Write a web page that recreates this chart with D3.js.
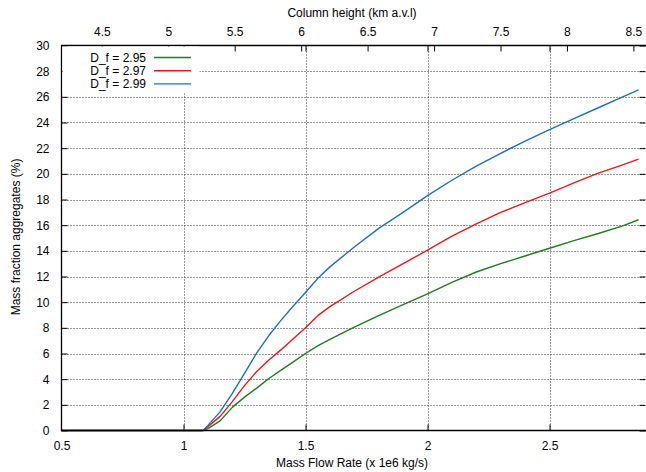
<!DOCTYPE html>
<html>
<head>
<meta charset="utf-8">
<script src="https://cdn.jsdelivr.net/npm/d3@7"></script>
<style>
  html, body { margin: 0; padding: 0; background: #fff; }
  svg { display: block; }
  text { font-family: "Liberation Sans", Arial, sans-serif; font-size: 12px; fill: #000; }
</style>
</head>
<body>
<svg id="chart" width="646" height="472"></svg>
<script>
// ---- data ----
const massFlow = [0.5, 0.6, 0.7, 0.8, 0.9, 1.0, 1.05, 1.08, 1.1, 1.15, 1.2, 1.25, 1.3, 1.35, 1.4, 1.45, 1.5, 1.55, 1.6, 1.7, 1.8, 1.9, 2.0, 2.1, 2.2, 2.3, 2.4, 2.5, 2.6, 2.7, 2.8, 2.865];
const df295 = [0, 0, 0, 0, 0, 0, 0, 0, 0.15, 0.75, 1.8, 2.6, 3.3, 4.05, 4.7, 5.35, 6.0, 6.6, 7.1, 8.05, 8.95, 9.8, 10.65, 11.55, 12.35, 13.0, 13.6, 14.2, 14.8, 15.35, 15.95, 16.42];
const df297 = [0, 0, 0, 0, 0, 0, 0, 0, 0.3, 1.1, 2.25, 3.5, 4.6, 5.5, 6.3, 7.15, 8.0, 8.95, 9.65, 10.85, 11.95, 13.0, 14.05, 15.15, 16.1, 17.0, 17.75, 18.5, 19.3, 20.05, 20.7, 21.15];
const df299 = [0, 0, 0, 0, 0, 0, 0, 0, 0.4, 1.45, 2.9, 4.45, 6.05, 7.4, 8.6, 9.7, 10.75, 11.85, 12.75, 14.3, 15.75, 17.0, 18.3, 19.5, 20.6, 21.6, 22.55, 23.45, 24.3, 25.15, 26.0, 26.55];
const seriesNames = ["D_f = 2.95", "D_f = 2.97", "D_f = 2.99"];
const seriesColors = ["#1e7d1e", "#e41a1c", "#1f70b8"];
const xTicks = [0.5, 1, 1.5, 2, 2.5];
const x2Ticks = [4.5, 5, 5.5, 6, 6.5, 7, 7.5, 8, 8.5];
const yTicks = [0, 2, 4, 6, 8, 10, 12, 14, 16, 18, 20, 22, 24, 26, 28, 30];
const xTitle = "Mass Flow Rate (x 1e6 kg/s)";
const x2Title = "Column height (km a.v.l)";
const yTitle = "Mass fraction aggregates (%)";

// ---- layout ----
const L = 61.5, R = 646, T = 45.5, B = 430.5;
const svg = d3.select("#chart");

const x = d3.scaleLinear().domain([0.5, 0.5 + (R - L) / 244]).range([L, R]);
const x2 = d3.scaleLinear().domain([4.5 - (101.8 - L) / 132.9, 4.5 + (R - 101.8) / 132.9]).range([L, R]);
const y = d3.scaleLinear().domain([0, 30]).range([B, T]);

// grid
const grid = svg.append("g").attr("stroke", "#333").attr("stroke-width", 1).attr("stroke-dasharray", "1,2");
grid.selectAll("line.h").data(yTicks.filter(d => d > 0 && d < 30)).enter().append("line")
  .attr("x1", L).attr("x2", R).attr("y1", d => Math.round(y(d)) + 0.5).attr("y2", d => Math.round(y(d)) + 0.5);
grid.selectAll("line.v").data(xTicks.filter(d => d > 0.5)).enter().append("line")
  .attr("x1", d => Math.round(x(d)) + 0.5).attr("x2", d => Math.round(x(d)) + 0.5).attr("y1", T).attr("y2", B);

// axes (ticks inward)
const tk = 6;
const gx = svg.append("g").attr("transform", `translate(0,${B})`)
  .call(d3.axisBottom(x).tickValues(xTicks).tickSize(-tk).tickPadding(tk + 5).tickFormat(d3.format("")));
const gxm = svg.append("g").attr("transform", `translate(0,${T})`)
  .call(d3.axisTop(x).tickValues(xTicks).tickSize(-tk).tickFormat(""));
const gx2 = svg.append("g").attr("transform", `translate(0,${T})`)
  .call(d3.axisTop(x2).tickValues(x2Ticks).tickSize(-tk).tickPadding(tk + 4).tickFormat(d3.format("")));
const gy = svg.append("g").attr("transform", `translate(${L},0)`)
  .call(d3.axisLeft(y).tickValues(yTicks).tickSize(-tk).tickPadding(tk + 6).tickFormat(d3.format("")));
const gyr = svg.append("g").attr("transform", `translate(${R - 0.5},0)`)
  .call(d3.axisRight(y).tickValues(yTicks).tickSize(-tk).tickFormat(""));
[gx, gxm, gx2, gy, gyr].forEach(g => {
  g.select(".domain").remove();
  g.selectAll("line").attr("stroke", "#000");
  g.selectAll("text").style("font-family", "'Liberation Sans', Arial, sans-serif").style("font-size", "12px").attr("fill", "#000");
});
gxm.selectAll(".tick").filter(d => d === 0.5).remove();
gx.selectAll(".tick line").filter(d => d === 0.5).remove();

// lines
const lineGen = d3.line().x(d => x(d[0])).y(d => y(d[1]));
[df295, df297, df299].forEach((vals, i) => {
  svg.append("path")
    .datum(massFlow.map((m, j) => [m, vals[j]]))
    .attr("fill", "none").attr("stroke", seriesColors[i]).attr("stroke-width", 1.4)
    .attr("stroke-linejoin", "round")
    .attr("d", lineGen);
});

// border
svg.append("path").attr("fill", "none").attr("stroke", "#000").attr("stroke-width", 1.3)
  .attr("d", `M${R},${T}H${L}V${B}H${R}`);

// legend
const lg = svg.append("g");
lg.append("rect").attr("x", L + 1).attr("y", T + 1).attr("width", 137).attr("height", 46).attr("fill", "#fff");
seriesNames.forEach((nm, i) => {
  const yy = 57.5 + i * 13.2;
  lg.append("text").attr("x", 146).attr("y", yy + 4.3).attr("text-anchor", "end").text(nm);
  lg.append("line").attr("x1", 154).attr("x2", 191).attr("y1", yy).attr("y2", yy)
    .attr("stroke", seriesColors[i]).attr("stroke-width", 1.4);
});

// titles
svg.append("text").attr("x", 352).attr("y", 467).attr("text-anchor", "middle").text(xTitle);
svg.append("text").attr("x", 352).attr("y", 17).attr("text-anchor", "middle").text(x2Title);
svg.append("text").attr("transform", `translate(20,237) rotate(-90)`).attr("text-anchor", "middle").text(yTitle);
</script>
</body>
</html>
